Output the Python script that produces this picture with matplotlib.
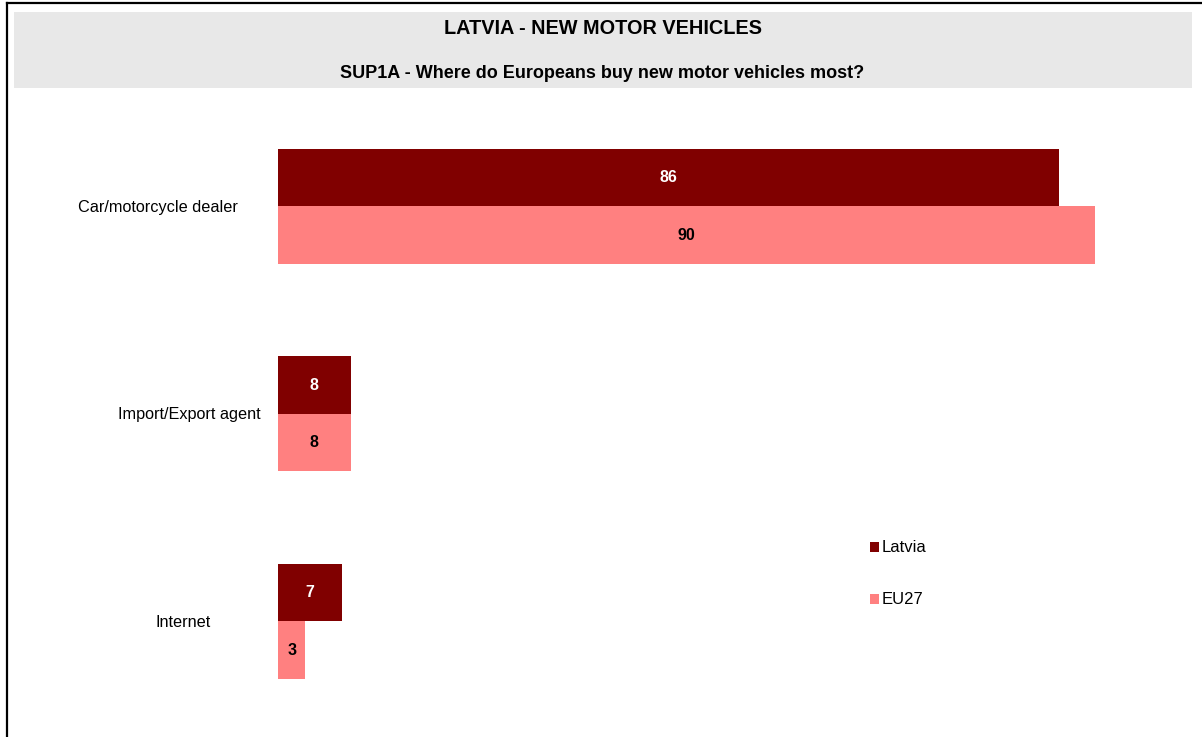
import matplotlib
matplotlib.use("Agg")
import matplotlib.pyplot as plt
from matplotlib.patches import Rectangle
from matplotlib.lines import Line2D
from matplotlib.transforms import blended_transform_factory

plt.rcParams['font.family'] = ['Liberation Sans', 'DejaVu Sans']

title = "LATVIA - NEW MOTOR VEHICLES"
subtitle = "SUP1A - Where do Europeans buy new motor vehicles most?"
categories = ["Car/motorcycle dealer", "Import/Export agent", "Internet"]
series_names = ["Latvia", "EU27"]
latvia = [86, 8, 7]
eu27 = [90, 8, 3]
colors = ["#800000", "#FF8080"]
text_colors = ["white", "black"]

W, H = 1202, 737
fig = plt.figure(figsize=(W / 100, H / 100), dpi=100)

def fx(px):
    return px / W

def fy(py):
    return 1 - py / H

# frame lines (left and top)
fig.add_artist(Line2D([fx(6.5), fx(6.5)], [fy(3), 0], color="black", lw=1.6))
fig.add_artist(Line2D([fx(6.5), 1], [fy(3), fy(3)], color="black", lw=1.6))

# grey title band
fig.add_artist(Rectangle((fx(14), fy(88)), fx(1192) - fx(14), fy(12) - fy(88),
                         facecolor="#E8E8E8", edgecolor="none", zorder=0))
fig.text(fx(603), fy(29), title, ha="center", va="center", fontsize=14.3, fontweight="bold")
fig.text(fx(602), fy(74), subtitle, ha="center", va="center", fontsize=13, fontweight="bold")

# axes
ax_top, ax_bot = 100, 730
ax = fig.add_axes([fx(278), fy(ax_bot), fx(1186) - fx(278), (ax_bot - ax_top) / H])
ax.set_xlim(0, 100)
spacing = 207.5
ax.set_ylim((ax_bot - 206) / spacing, (ax_top - 206) / spacing)
ax.axis("off")

h = 57.5 / spacing
ys = list(range(len(categories)))
for si, (vals, col, tcol) in enumerate(zip([latvia, eu27], colors, text_colors)):
    offs = -h / 2 if si == 0 else h / 2
    pos = [y + offs for y in ys]
    ax.barh(pos, vals, height=h, color=col, edgecolor="none")
    for p, v in zip(pos, vals):
        ax.text(v / 2, p + 0.003, f"{v}", ha="center", va="center", color=tcol,
                fontsize=11.5, fontweight="bold")

# category labels
label_x = [158, 189, 183]
trans = blended_transform_factory(fig.transFigure, ax.transData)
for y, lab, lx in zip(ys, categories, label_x):
    ax.text(fx(lx), y + 0.005, lab, transform=trans, ha="center", va="center", fontsize=11.7)

# legend
leg_y = [547, 599]
for name, col, ly in zip(series_names, colors, leg_y):
    fig.add_artist(Rectangle((fx(870), fy(ly + 5)), fx(9), 10 / H, facecolor=col, edgecolor="none"))
    fig.text(fx(882), fy(ly + 1), name, ha="left", va="center", fontsize=12)

fig.savefig("out.png", dpi=100)
